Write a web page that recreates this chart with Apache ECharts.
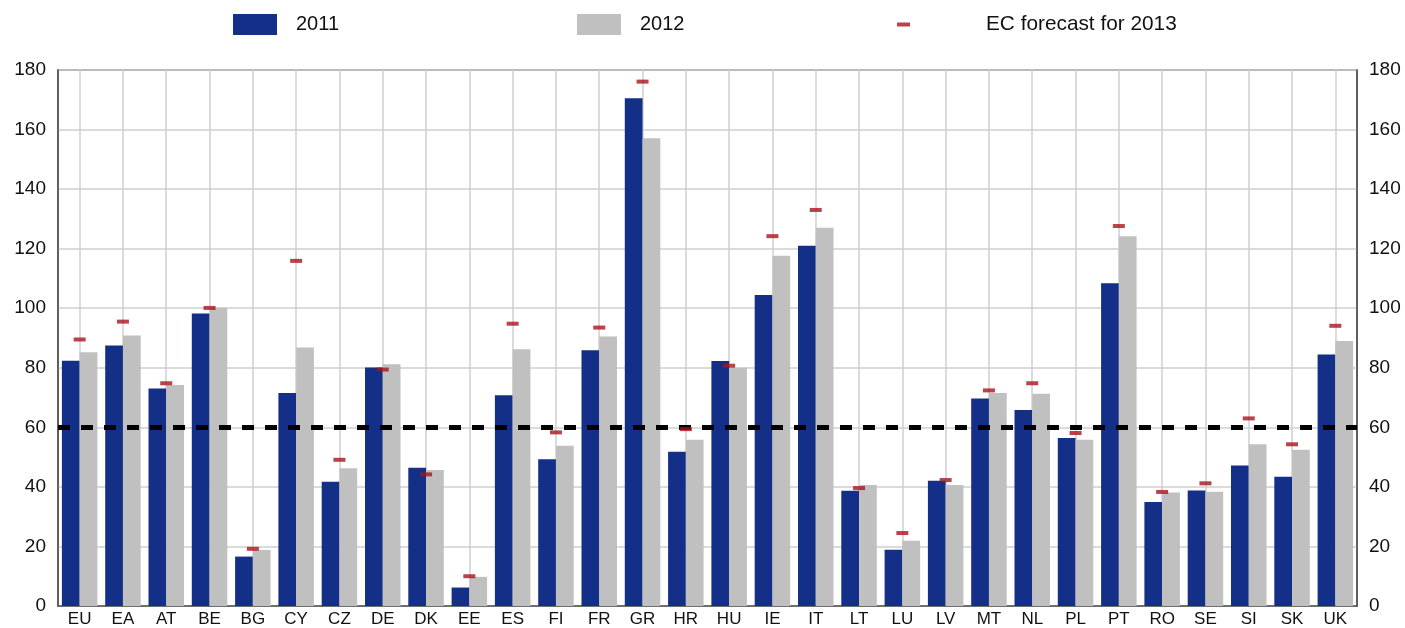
<!DOCTYPE html>
<html>
<head>
<meta charset="utf-8">
<script src="https://cdn.jsdelivr.net/npm/echarts@6/dist/echarts.min.js"></script>
<style>html,body{margin:0;padding:0;background:#fff;}#c{width:1405px;height:628px;}</style>
</head>
<body>
<div id="c"></div>
<script>
const categories = ['EU','EA','AT','BE','BG','CY','CZ','DE','DK','EE','ES','FI','FR','GR','HR','HU','IE','IT','LT','LU','LV','MT','NL','PL','PT','RO','SE','SI','SK','UK'];
const values2011 = [82.4,87.5,73.0,98.2,16.6,71.5,41.7,80.1,46.4,6.2,70.8,49.3,85.9,170.5,51.8,82.3,104.4,121.0,38.7,18.9,42.1,69.7,65.8,56.4,108.4,34.9,38.8,47.2,43.4,84.5];
const values2012 = [85.2,90.8,74.2,100.2,18.8,86.8,46.3,81.2,45.7,9.8,86.2,53.8,90.5,157.1,55.8,80.0,117.6,127.0,40.6,21.9,40.6,71.5,71.3,55.8,124.2,38.1,38.4,54.3,52.5,89.0];
const forecast2013 = [89.5,95.5,74.8,100.1,19.2,115.9,49.1,79.4,44.2,10.0,94.8,58.3,93.5,176.1,59.4,80.7,124.2,133.0,39.6,24.5,42.3,72.4,74.8,58.1,127.6,38.3,41.2,63.0,54.3,94.1];
const threshold = 60;
const yTicks = [0,20,40,60,80,100,120,140,160,180];

const font = 'Liberation Sans, Arial, sans-serif';
const chart = echarts.init(document.getElementById('c'), null, {renderer:'canvas'});
const yAxisCommon = {
  type:'value', min:yTicks[0], max:yTicks[yTicks.length-1], interval:yTicks[1]-yTicks[0],
  axisLine:{show:true, lineStyle:{color:'#555', width:1.5}},
  axisTick:{show:false},
  axisLabel:{color:'#111', fontSize:19, fontFamily:font, margin:12},
  splitLine:{show:true, lineStyle:{color:'#cfcfcf', width:1.5}}
};
const legText = {fontSize:20, fontFamily:font, color:'#111'};
chart.setOption({
  animation:false,
  backgroundColor:'#fff',
  grid:{left:58, right:48, top:70, bottom:20, show:true, borderColor:'#555', borderWidth:1.5, containLabel:false},
  legend:[
    {data:['2011'], left:233, top:14, padding:0, itemWidth:44, itemHeight:21, icon:'rect',
     textStyle:Object.assign({padding:[0,0,0,14]}, legText)},
    {data:['2012'], left:577, top:14, padding:0, itemWidth:44, itemHeight:21, icon:'rect',
     textStyle:Object.assign({padding:[0,0,0,14]}, legText)},
    {data:['EC forecast for 2013'], left:897, top:14, padding:0, itemWidth:13, itemHeight:21, icon:'path://M0,8.5L13,8.5L13,12.5L0,12.5Z',
     textStyle:Object.assign({padding:[0,0,0,71]}, legText, {fontSize:20.8})}
  ],
  xAxis:{
    type:'category', data:categories,
    axisLine:{show:true, lineStyle:{color:'#555', width:1.5}},
    axisTick:{show:false, alignWithLabel:true},
    axisLabel:{color:'#111', fontSize:17, fontFamily:font, margin:5},
    splitLine:{show:true, alignWithLabel:true, lineStyle:{color:'#cfcfcf', width:1.5}}
  },
  yAxis:[
    Object.assign({}, yAxisCommon, {position:'left'}),
    Object.assign({}, yAxisCommon, {position:'right', splitLine:{show:false}})
  ],
  series:[
    {name:'2011', type:'bar', data:values2011, barGap:'0%', barCategoryGap:'18%',
     itemStyle:{color:'#132f87'}},
    {name:'2012', type:'bar', data:values2012, barGap:'0%', barCategoryGap:'18%',
     itemStyle:{color:'#c0c0c0'},
     markLine:{silent:true, symbol:'none', label:{show:false},
       lineStyle:{color:'#000', width:5, type:[12,11]},
       data:[{yAxis:threshold}], z:5}},
    {name:'EC forecast for 2013', type:'scatter', data:forecast2013, z:6,
     symbol:'rect', symbolSize:[12,4], itemStyle:{color:'#a8141a'}}
  ]
});
</script>
</body>
</html>
